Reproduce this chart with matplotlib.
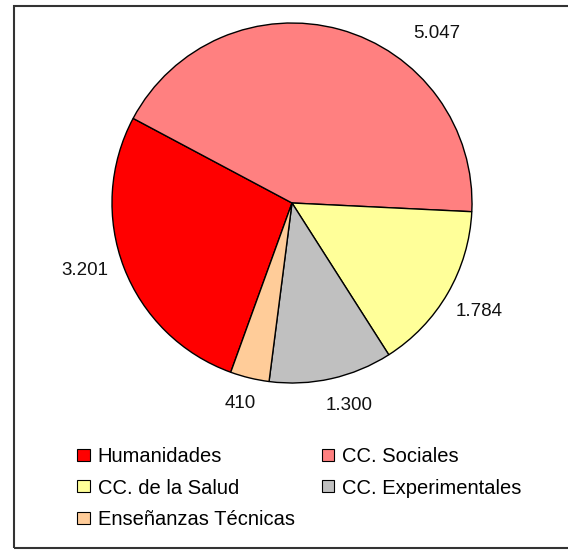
import numpy as np
import matplotlib
matplotlib.use('agg')
import matplotlib.pyplot as plt
from matplotlib.patches import Rectangle

# data
categories = ['Humanidades', 'CC. Sociales', 'CC. de la Salud',
              'CC. Experimentales', 'Enseñanzas Técnicas']
values = [3201, 5047, 1784, 1300, 410]
colors = ['#FF0000', '#FF8080', '#FFFF99', '#C0C0C0', '#FFCC99']
value_labels = ['3.201', '5.047', '1.784', '1.300', '410']

# label placement tweaks (degrees shift, distance in radii)
label_shift = [-3, -25, 0, 3, -1]
label_dist = [1.21, 1.24, 1.20, 1.17, 1.15]

plt.rcParams['font.family'] = ['Liberation Sans', 'DejaVu Sans']

W, H = 568, 550
fig = plt.figure(figsize=(W / 100, H / 100), dpi=100)
ax = fig.add_axes([0, 0, 1, 1])

cx, cy, r = 292, H - 203, 180
wedges, texts = ax.pie(values, colors=colors, startangle=250.1, counterclock=False,
                       center=(cx, cy), radius=r, labels=value_labels,
                       wedgeprops=dict(edgecolor='black', linewidth=1.0),
                       textprops=dict(fontsize=13.5, color='#111111'), frame=True)
ax.set_xlim(0, W)
ax.set_ylim(0, H)
ax.set_aspect('equal')
ax.axis('off')

for w, t, s, d in zip(wedges, texts, label_shift, label_dist):
    ang = np.deg2rad((w.theta1 + w.theta2) / 2 + s)
    t.set_position((cx + d * r * np.cos(ang), cy + d * r * np.sin(ang)))
    t.set_ha('center')
    t.set_va('center')

# outer frame
ax.add_patch(Rectangle((13.5, H - 548), W, 548 - 6, fill=False,
                       edgecolor='#333333', linewidth=1.5, clip_on=False))

# legend filled row by row: matplotlib fills columns first
order = [0, 2, 4, 1, 3]
leg = fig.legend([wedges[i] for i in order], [categories[i] for i in order],
                 ncol=2, frameon=False, fontsize=14.5,
                 loc='upper left', bbox_to_anchor=(67 / W, 1 - 437 / H),
                 borderpad=0, handlelength=0.62, handleheight=0.55,
                 handletextpad=0.4, columnspacing=1.35, labelspacing=0.62)
for h in leg.legend_handles:
    h.set_linewidth(0.8)

fig.savefig('out.png', dpi=100)
